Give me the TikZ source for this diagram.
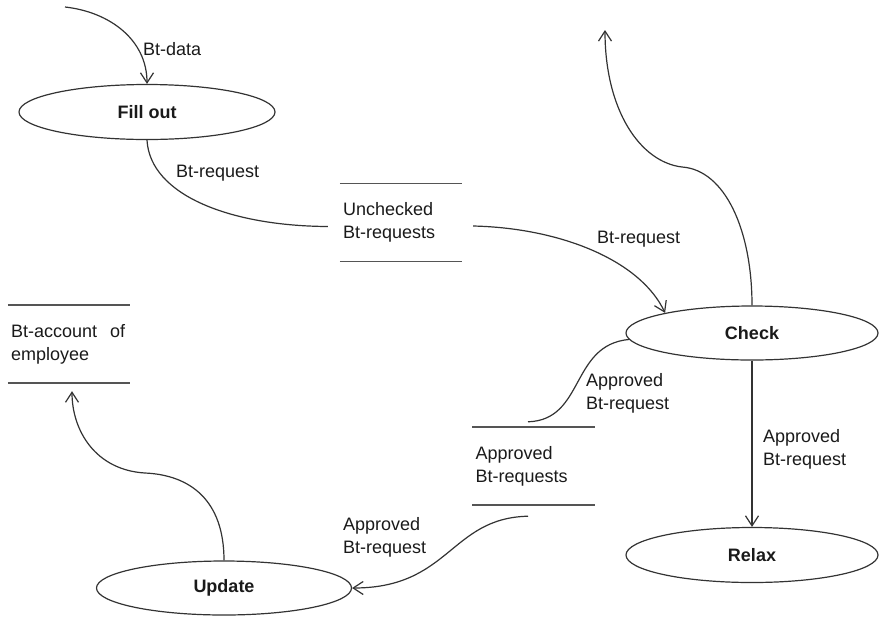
\documentclass[tikz,border=0pt]{standalone}
\usepackage{fontspec}
\setmainfont{Liberation Sans}
\usetikzlibrary{shapes.geometric,arrows.meta,calc}
\definecolor{linec}{HTML}{333333}
\definecolor{storec}{HTML}{555555}
\definecolor{textc}{HTML}{1A1A1A}
\begin{document}
\begin{tikzpicture}[x=1pt,y=-1pt,
  proc/.style={ellipse,draw=linec,line width=1.2pt,inner sep=0pt,font=\fontsize{18}{22}\selectfont\bfseries,text=textc},
  store/.style={rectangle,minimum width=122pt,minimum height=78pt,text width=116pt,inner xsep=3pt,inner ysep=0pt,align=left,font=\fontsize{18}{23}\selectfont,text=textc},
  storeline/.style={draw=storec,line width=1.5pt},
  flow/.style={draw=linec,line width=1.2pt},
  arr/.style={flow,-{Straight Barb[length=10pt,width=13pt]}},
  lbl/.style={inner sep=0pt,align=left,font=\fontsize{18}{23}\selectfont,text=textc}
]
\useasboundingbox (0,0) rectangle (880,619);
% processes
\node[proc,minimum width=256pt,minimum height=55pt] (fill) at (147,112) {Fill out};
\node[proc,minimum width=252pt,minimum height=54pt] (check) at (752,333) {Check};
\node[proc,minimum width=252pt,minimum height=55pt] (relax) at (752,555) {Relax};
\node[proc,minimum width=255pt,minimum height=54pt] (update) at (224,588) {Update};
% stores
\node[store] (unch) at (401,222.5) {Unchecked\\Bt-requests};
\node[store] (appr) at (533.5,466) {Approved\\Bt-requests};
\node[store] (acct) at (69,344) {Bt-account\hspace{13pt}of\\employee};
\draw[storeline] (unch.north west) -- (unch.north east) (unch.south west) -- (unch.south east);
\draw[storeline] (appr.north west) -- (appr.north east) (appr.south west) -- (appr.south east);
\draw[storeline] (acct.north west) -- (acct.north east) (acct.south west) -- (acct.south east);
% free ends
\coordinate (src) at (65,7);
\coordinate (out) at (605,30);
% flows
\draw[arr] (src) .. controls (110,12) and (147,40) .. (fill.north);
\draw[flow] (fill.south) .. controls (150,195) and (230,226) .. ($(unch.west)+(-12,4)$);
\draw[arr] ($(unch.east)+(11,3.5)$) .. controls (560,228) and (640,260) .. (check.167);
\draw[arr] (check.north) .. controls (752,230) and (725,170) .. (682,167) .. controls (640,162) and (605,110) .. (out);
\draw[flow] (check.183) .. controls (570,345) and (585,420) .. ($(appr.north)+(-5.5,-5)$);
\draw[arr] (check.south) -- (relax.north);
\draw[arr] ($(appr.south)+(-5.5,11)$) .. controls (450,518) and (450,588) .. (update.east);
\draw[arr] (update.north) .. controls (224,500) and (190,475) .. (145,473) .. controls (95,470) and (72,430) .. ($(acct.south)+(3,8)$);
% labels
\node[lbl,anchor=base west] (l1) at (143,55) {Bt-data};
\node[lbl,anchor=base west] (l2) at (176,177) {Bt-request};
\node[lbl,anchor=base west] (l3) at (597,243) {Bt-request};
\node[lbl,anchor=north west] (l4) at (586,373) {Approved\\Bt-request};
\node[lbl,anchor=north west] (l5) at (763,429) {Approved\\Bt-request};
\node[lbl,anchor=north west] (l6) at (343,517) {Approved\\Bt-request};
\end{tikzpicture}
\end{document}
